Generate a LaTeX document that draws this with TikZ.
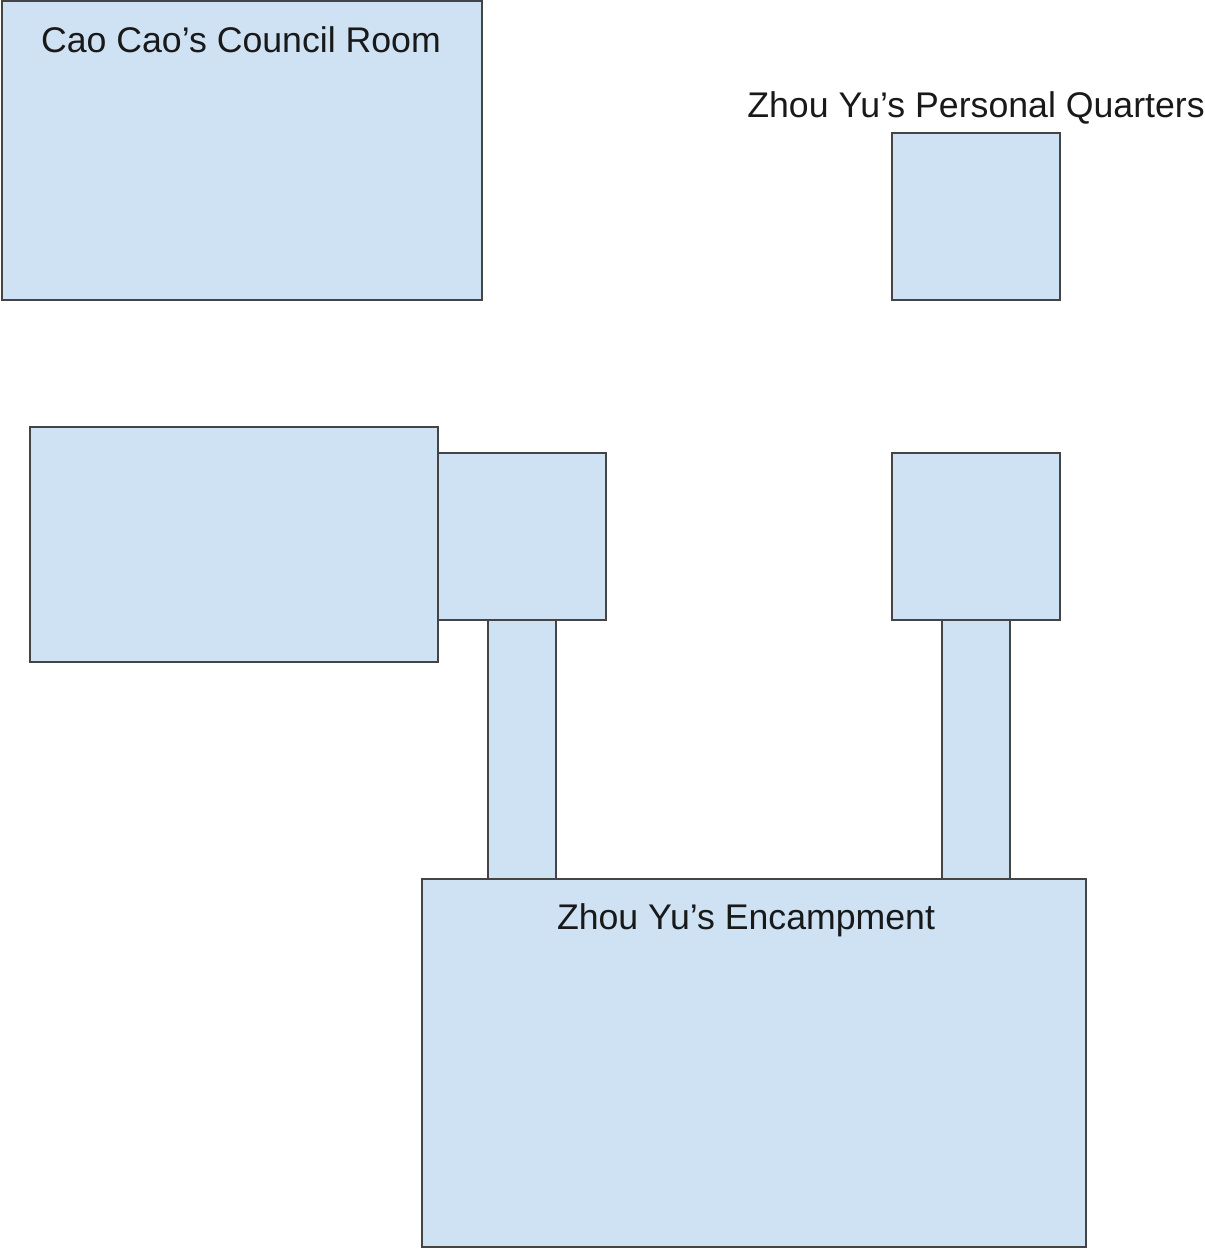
\documentclass[tikz,border=0pt]{standalone}
\usepackage{fontspec}
\setmainfont{Liberation Sans}
\usetikzlibrary{positioning}
\definecolor{roomblue}{HTML}{CFE2F3}
\definecolor{wallgray}{HTML}{444444}
\tikzset{room/.style={fill=roomblue,draw=wallgray,line width=1.1pt},
  roomlabel/.style={anchor=base,inner sep=0pt,font=\fontsize{20.3}{24}\selectfont,text=black!90}}

\begin{document}
\begin{tikzpicture}[x=0.02cm,y=-0.02cm]

        \useasboundingbox (0,0) rectangle (1204,1251);

        % corridors
        \draw [room] (488,620) rectangle (556,879);
        \draw [room] (942,620) rectangle (1010,879);

        % rooms
        \draw [room] (2,1) rectangle (482,300);
        \draw [room] (892,133) rectangle (1060,300);
        \draw [room] (30,427) rectangle (438,662);
        \draw [room] (438,453) rectangle (606,620);
        \draw [room] (892,453) rectangle (1060,620);
        \draw [room] (422,879) rectangle (1086,1247);

        % labels
        \node [roomlabel] (council) at (241,52) {Cao Cao’s Council Room};
        \node [roomlabel] (quarters) at (976,117) {Zhou Yu’s Personal Quarters};
        \node [roomlabel] (camp) at (746,929) {Zhou Yu’s Encampment};

    \end{tikzpicture}
\end{document}
